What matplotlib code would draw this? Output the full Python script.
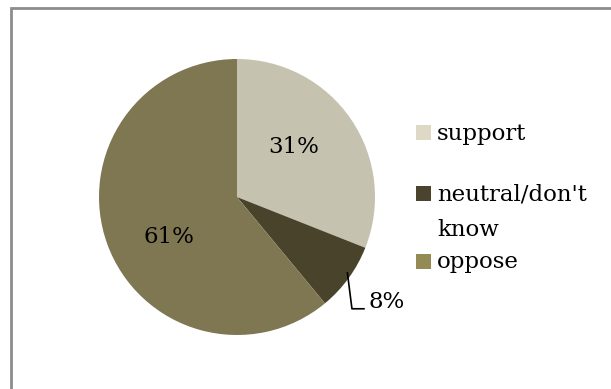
import numpy as np
import matplotlib
matplotlib.use("Agg")
import matplotlib.pyplot as plt
from matplotlib.patches import Rectangle

labels = ["support", "neutral/don't\nknow", "oppose"]
shares = [31, 8, 61]
pie_colors = ["#C6C2B0", "#4A432B", "#7F7652"]
key_colors = ["#DDD9C4", "#4A442E", "#948A54"]

W, H = 611, 389
fig = plt.figure(figsize=(W / 100, H / 100), dpi=100)
plt.rcParams["font.family"] = ["DejaVu Serif"]

# chart frame
fig.add_artist(Rectangle((11 / W, -0.1), 1.2, (H - 8) / H + 0.1,
                         transform=fig.transFigure, fill=False,
                         edgecolor="#8C8C8C", linewidth=2))

cx, cy, r = 237, 197, 138
ax = fig.add_axes([(cx - r) / W, (H - cy - r) / H, 2 * r / W, 2 * r / H])
wedges, _ = ax.pie(shares, colors=pie_colors, startangle=90,
                   counterclock=False, radius=1.0)
ax.set_xlim(-1, 1)
ax.set_ylim(-1, 1)
ax.set_aspect("equal")
ax.axis("off")

# percent labels, placed around each slice's middle angle
tot = sum(shares)
mid = []
acc = 0
for s in shares:
    mid.append(90 - 360 * (acc + s / 2) / tot)
    acc += s
fs = 16.5
for i, rr, shift in [(0, 0.55, 7), (2, 0.57, 11)]:
    a = np.deg2rad(mid[i] + shift)
    ax.text(rr * np.cos(a), rr * np.sin(a), f"{shares[i]}%",
            ha="center", va="center", fontsize=fs)

# leader for the small slice
ax.plot([0.80, 0.833, 0.92], [-0.55, -0.81, -0.81], color="black",
        lw=1.2, clip_on=False)
ax.text(0.95, -0.76, f"{shares[1]}%", ha="left", va="center", fontsize=fs)

# legend
rows = [133, 193, 261]
for lab, col, y in zip(labels, key_colors, rows):
    fig.add_artist(Rectangle((416 / W, (H - y - 7.5) / H), 15 / W, 15 / H,
                             transform=fig.transFigure, facecolor=col,
                             edgecolor="none"))
    for k, line in enumerate(lab.split("\n")):
        fig.text(437 / W, (H - y - 1 - 36 * k) / H, line, fontsize=fs,
                 ha="left", va="center")

fig.savefig("out.png", dpi=100, facecolor="white")
